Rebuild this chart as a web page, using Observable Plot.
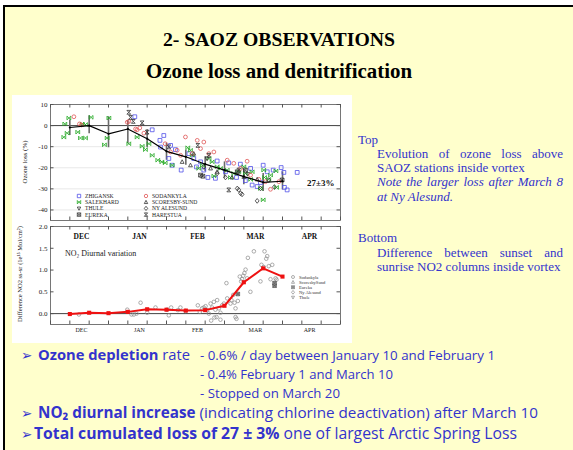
<!DOCTYPE html>
<html><head><meta charset="utf-8">
<script src="https://cdn.jsdelivr.net/npm/d3@7"></script>
<script src="https://cdn.jsdelivr.net/npm/@observablehq/plot@0.6"></script>
<style>
html,body{margin:0;padding:0;background:#fff;}
body{width:573px;height:450px;position:relative;overflow:hidden;}
#slide{position:absolute;left:3px;top:5px;width:600px;height:460px;background:#FFFFCC;border-left:2px solid #000;border-top:2px solid #000;}
#fig{position:absolute;left:12px;top:95px;width:340px;height:248px;background:#fff;}
.plot{position:absolute;}
#overlay{position:absolute;left:0;top:0;}
</style></head><body>
<div id="slide"></div>
<div id="fig"></div>
<div id="top" class="plot" style="left:12px;top:95px"></div>
<div id="bot" class="plot" style="left:12px;top:225px"></div>
<svg id="overlay" width="573" height="450"></svg>
<script>
// ---------- DATA ----------
const monthNames = ["DEC","JAN","FEB","MAR","APR"];
const monthDays = [16,46,76,106,134];          // days since 30 Nov
const dayTicks = [0,10,20,30,40,50,60,70,80,90,100,110,120,130,140,150];
const yTicksTop = [10,0,-10,-20,-30,-40];
const gridTop = [-10,-20,-30,-40];
const yTicksBot = [0,0.5,1,1.5,2];

const meanDays = [10,20,30,40,50,60,70,80,90,100,110,120];
const meanLoss = [-0.9,0.0,-3.9,-1.6,-6.2,-12.2,-14.8,-18.3,-21.1,-24.2,-26.9,-26.4];
const meanHi   = [2.7,4.7,4.2,2.3,-2.0,-8.3,-11.7,-14.8,-17.2,-20.8,-22.7,-21.9];
const meanLo   = [-4.7,-3.9,-10.5,-8.6,-10.5,-16.4,-18.8,-21.9,-25.0,-28.1,-31.3,-30.5];

const zhigansk = [[43.6,4.2],[52.6,-2.0],[58.6,-4.7],[56.6,-7.0],[56.9,-10.2],[62.1,-9.4],[64.6,-11.4],[61.2,-15.6],[62.9,-18.8],[67.6,-21.1],[71.6,-13.3],[74.1,-15.6],[75.5,-19.6],[77.6,-17.2],[79.3,-21.1],[81.4,-24.6],[85.3,-25.0],[86.2,-16.8],[90.5,-21.9],[92.2,-17.7],[96.2,-24.6],[98.2,-18.3],[100.8,-26.1],[103.5,-20.3],[104.3,-28.2],[106.9,-28.9],[108.6,-27.0],[110.0,-18.8],[112.1,-21.9],[115.2,-21.1],[119.3,-19.9],[120.7,-22.2],[121.0,-29.3],[122.4,-30.5],[127.6,-22.2]];
const salekhard = [[9.5,3.6],[7.4,0.8],[6.9,-5.5],[8.6,-3.6],[14.1,-3.1],[15.5,-5.9],[18.1,-5.9],[21.0,3.9],[16.4,0.8],[18.1,0.5],[30.2,3.6],[29.3,-5.9],[27.9,-9.1],[40.5,-8.6],[44.8,-5.5],[47.4,-9.8],[49.1,-11.4],[50.9,-8.6],[52.6,-14.1],[55.5,-16.4],[57.6,-17.2],[59.3,-17.7],[62.9,-18.8],[71.0,-10.5],[72.4,-11.7],[73.3,-14.1],[76.7,-20.3],[78.6,-18.8],[82.0,-15.6],[83.6,-17.2],[84.5,-23.9],[86.2,-19.5],[87.9,-20.3],[91.4,-21.1],[93.1,-24.6],[94.8,-22.7],[97.4,-21.9],[100.0,-19.5],[100.8,-22.7],[103.5,-25.5],[104.3,-21.9],[108.6,-29.8],[110.0,-35.2],[110.3,-21.1],[110.7,-24.6],[112.9,-25.5],[113.8,-23.5],[116.6,-21.5],[116.9,-29.3]];
const sodankyla = [[12.1,4.2],[15.0,0.8],[16.0,0.3],[39.7,1.6],[40.5,2.0],[44.0,-1.6],[44.8,-2.0],[46.2,-1.1],[48.3,-3.6],[59.3,-8.6],[62.1,-12.5],[65.5,-11.7],[67.3,-14.1],[69.8,-5.4],[73.3,-13.3],[75.9,-7.0],[77.6,-10.9],[79.3,-7.8],[81.9,-13.3],[84.5,-12.5],[91.4,-16.4],[94.8,-17.9],[98.3,-20.3],[101.7,-16.9],[103.5,-23.5],[107.8,-25.5],[111.2,-26.6],[113.8,-30.2],[118.1,-26.6]];
const harestua = [[40.5,6.3],[41.4,3.9],[42.8,2.0],[47.4,1.3],[50.0,-3.1],[61.2,-10.1],[76.2,-9.4],[81.9,-14.1],[92.2,-30.5],[97.4,-21.1]];
const nyAlesund = [[79.3,-19.6],[86.2,-22.7],[90.5,-24.6],[96.6,-29.8],[97.4,-30.5],[98.3,-32.1],[99.1,-32.6],[106.9,-35.7],[108.6,-29.8],[112.9,-25.8],[115.8,-29.1]];
const scoresby = [[68.1,-17.2],[72.4,-18.8],[74.1,-13.3],[82.8,-20.3],[86.2,-21.9],[93.9,-24.6],[100.0,-24.3],[106.9,-25.5]];
const eureka = [[77.6,-23.5],[78.8,-24.0],[96.6,-21.9],[100.8,-21.1],[119.8,-25.8]];
const thule = [[81.0,-15.6],[102.0,-23.0]];

const no2Days = [10,20,30,40,50,60,70,80,90,100,110,120];
const no2Mean = [-0.01,0.02,0.01,0.04,0.10,0.09,0.07,0.08,0.18,0.72,1.04,0.85];
const no2Obs = [[14.7,-0.02],[39.7,0.09],[41.9,-0.02],[43.1,-0.02],[44.5,0.0],[46.6,0.25],[50.0,0.02],[54.3,0.14],[60.3,0.09],[61.2,-0.04],[62.4,0.14],[65.9,0.08],[67.2,0.14],[69.8,0.06],[76.2,0.19],[77.2,0.04],[78.4,0.12],[79.3,0.14],[80.2,0.17],[81.0,0.08],[81.9,0.0],[82.8,0.23],[83.6,0.14],[84.5,0.27],[85.3,0.09],[86.2,0.31],[87.1,0.12],[87.9,0.02],[88.8,0.19],[89.7,0.23],[83.1,-0.16],[84.8,-0.09],[87.9,-0.14],[85.9,-0.08],[91.0,0.70],[91.4,0.35],[93.1,0.23],[93.6,0.31],[94.5,0.43],[95.2,0.25],[95.7,0.12],[95.7,-0.08],[96.2,-0.12],[96.9,0.29],[97.9,0.85],[98.6,0.74],[99.1,0.79],[99.7,0.87],[100.3,0.93],[100.9,1.01],[101.7,0.81],[102.1,1.28],[103.4,0.50],[105.2,1.43],[108.6,0.74],[109.1,1.12],[110.3,1.07],[110.7,1.43],[111.6,1.26],[112.1,1.32],[112.9,1.09],[113.8,0.79],[114.7,1.12],[116.4,0.81],[116.9,0.78]];
const no2Eureka = [[96.9,0.45],[115.9,0.64],[115.9,0.70]];

const topStations = ["ZHIGANSK","SALEKHARD","THULE","EUREKA","SODANKYLA","SCORESBY-SUND","NY ALESUND","HARESTUA"];
const botStations = ["Sodankyla","ScoresbySund","Eureka","Ny Alesund","Thule"];

// ---------- SYMBOLS ----------
function mk(fn){return {draw(c,size){const r=Math.sqrt(size/Math.PI); fn(c,r);}};}
const SYM = {
  square: mk((c,r)=>{c.moveTo(-r,-r);c.lineTo(r,-r);c.lineTo(r,r);c.lineTo(-r,r);c.closePath();}),
  circle: mk((c,r)=>{c.moveTo(r,0);c.arc(0,0,r,0,2*Math.PI);}),
  bowtie: mk((c,r)=>{c.moveTo(-r,-r);c.lineTo(-r,r);c.lineTo(r,-r);c.lineTo(r,r);c.closePath();}),
  hourglass: mk((c,r)=>{c.moveTo(-r,-r);c.lineTo(r,-r);c.lineTo(-r,r);c.lineTo(r,r);c.closePath();}),
  triangle: mk((c,r)=>{c.moveTo(0,-r*1.1);c.lineTo(r,r*0.8);c.lineTo(-r,r*0.8);c.closePath();}),
  itriangle: mk((c,r)=>{c.moveTo(0,r*1.1);c.lineTo(r,-r*0.8);c.lineTo(-r,-r*0.8);c.closePath();}),
  diamond: mk((c,r)=>{c.moveTo(0,-r*1.25);c.lineTo(r,0);c.lineTo(0,r*1.25);c.lineTo(-r,0);c.closePath();}),
  sqcross: mk((c,r)=>{c.moveTo(-r,-r);c.lineTo(r,-r);c.lineTo(r,r);c.lineTo(-r,r);c.closePath();c.moveTo(-r,-r);c.lineTo(r,r);c.moveTo(r,-r);c.lineTo(-r,r);})
};
const BLUEPT="#5050e8", GREEN="#22a822", REDPT="#e05555", DARK="#333";
const topStyle = [
  {data:zhigansk, sym:SYM.square, color:BLUEPT},
  {data:salekhard, sym:SYM.bowtie, color:GREEN},
  {data:thule, sym:SYM.itriangle, color:DARK},
  {data:eureka, sym:SYM.sqcross, color:DARK},
  {data:sodankyla, sym:SYM.circle, color:REDPT},
  {data:scoresby, sym:SYM.triangle, color:DARK},
  {data:nyAlesund, sym:SYM.diamond, color:DARK},
  {data:harestua, sym:SYM.hourglass, color:DARK}
];

// ---------- TOP PLOT ----------
const W=338, TH=130, TMT=9, TMB=5, ML=38, MR=10;
const FW=W-ML-MR, FHT=TH-TMT-TMB;
const meanData = meanDays.map((d,i)=>({day:d, loss:meanLoss[i], hi:meanHi[i], lo:meanLo[i]}));
const fx = d=>d[0], fy = d=>d[1];
const SERIF = "'Liberation Serif','Times New Roman',serif";
const topPlot = Plot.plot({
  width:W, height:TH, marginLeft:ML, marginRight:MR, marginTop:TMT, marginBottom:TMB,
  x:{domain:[0,150], axis:null},
  y:{domain:[-45,10], axis:null},
  style:{fontFamily:SERIF, fontSize:"7px", background:"transparent", overflow:"visible", color:"#222"},
  marks:[
    Plot.ruleY(gridTop,{stroke:"#e2e2e2", strokeWidth:0.8}),
    Plot.ruleY([0],{stroke:"#111", strokeWidth:0.8}),
    Plot.ruleX(meanData,{x:"day", y1:"lo", y2:"hi", stroke:"#6a6a6a", strokeWidth:1.6}),
    ...topStyle.map(s=>Plot.dot(s.data,{x:fx, y:fy, symbol:s.sym, r:1.9, stroke:s.color, strokeWidth:0.8, fill:"none"})),
    Plot.line(meanData,{x:"day", y:"loss", stroke:"#000", strokeWidth:1.2}),
    Plot.dot(meanData,{x:"day", y:"loss", r:1.1, fill:"#000"}),
    Plot.frame({stroke:"#555", strokeWidth:0.8}),
    Plot.tickX(dayTicks,{x:d=>d, insetBottom:FHT-3.5, stroke:"#555"}),
    Plot.tickX(dayTicks,{x:d=>d, insetTop:FHT-3.5, stroke:"#555"}),
    Plot.tickY(yTicksTop,{y:d=>d, insetRight:FW-3.5, stroke:"#555"}),
    Plot.tickY(yTicksTop,{y:d=>d, insetLeft:FW-3.5, stroke:"#555"}),
    Plot.axisY({ticks:yTicksTop, tickSize:0, tickPadding:3, tickFormat:d=>String(d), label:null, fontSize:7})
  ]
});
document.getElementById("top").appendChild(topPlot);

// ---------- BOTTOM PLOT ----------
const BH=117, BMT=1, BMB=18, FHB=BH-BMT-BMB;
const no2Data = no2Days.map((d,i)=>({day:d, v:no2Mean[i]}));
const botPlot = Plot.plot({
  width:W, height:BH, marginLeft:ML, marginRight:MR, marginTop:BMT, marginBottom:BMB,
  x:{domain:[0,150], axis:null},
  y:{domain:[-0.25,2.0], axis:null},
  style:{fontFamily:SERIF, fontSize:"7px", background:"transparent", overflow:"visible", color:"#222"},
  marks:[
    Plot.ruleY([0],{stroke:"#111", strokeWidth:0.8}),
    Plot.dot(no2Obs,{x:fx, y:fy, symbol:SYM.circle, r:1.8, stroke:"#8a8a8a", strokeWidth:0.7, fill:"none"}),
    Plot.dot(no2Eureka,{x:fx, y:fy, symbol:SYM.sqcross, r:1.8, stroke:"#555", fill:"#999", strokeWidth:0.7}),
    Plot.line(no2Data,{x:"day", y:"v", stroke:"#ee1111", strokeWidth:2}),
    Plot.dot(no2Data,{x:"day", y:"v", symbol:"square", r:2.3, fill:"#ee1111"}),
    Plot.frame({stroke:"#555", strokeWidth:0.8}),
    Plot.tickX(dayTicks,{x:d=>d, insetBottom:FHB-3.5, stroke:"#555"}),
    Plot.tickX(dayTicks,{x:d=>d, insetTop:FHB-3.5, stroke:"#555"}),
    Plot.tickY(yTicksBot,{y:d=>d, insetRight:FW-3.5, stroke:"#555"}),
    Plot.tickY(yTicksBot,{y:d=>d, insetLeft:FW-3.5, stroke:"#555"}),
    Plot.text(monthNames,{x:(d,i)=>monthDays[i], text:d=>d, frameAnchor:"top", dy:7, fontSize:7.5, fontWeight:"bold", fill:"#111"}),
    Plot.axisY({ticks:yTicksBot, tickSize:0, tickPadding:3, tickFormat:d3.format(".1f"), label:null, fontSize:7}),
    Plot.axisX({ticks:monthDays, tickSize:0, tickPadding:3, tickFormat:d=>monthNames[monthDays.indexOf(d)], label:null, fontSize:6})
  ]
});
document.getElementById("bot").appendChild(botPlot);

// ---------- OVERLAY TEXT ----------
const svg = d3.select("#overlay");
const BLUE = "#3333cc";
function symPath(sym, r){const p=d3.path(); sym.draw(p, r*r*Math.PI); return p.toString();}
function addText(x,y,parts,o={}){
  const t = svg.append("text").attr("x",x).attr("y",y)
    .style("font-family",o.family||SERIF).attr("font-size",o.size||13)
    .attr("fill",o.fill||"#000").attr("text-anchor",o.anchor||"start")
    .attr("font-weight",o.weight||"normal").attr("font-style",o.style||"normal");
  if (o.transform) t.attr("transform",o.transform);
  for (const p of parts){
    const s = t.append("tspan").text(typeof p==="string"?p:p.t);
    if (typeof p!=="string"){ if(p.w) s.attr("font-weight",p.w); if(p.dy!=null) s.attr("dy",p.dy); if(p.fs) s.attr("font-size",p.fs); }
  }
  if (o.width){
    const n = t.node().getComputedTextLength();
    const sz = (o.size||13)*Math.max(0.85,Math.min(1.15,o.width/n));
    t.attr("font-size",sz);
    t.attr("textLength",o.width).attr("lengthAdjust","spacingAndGlyphs");
  }
  return t;
}
function justify(x0,x1,y,str,o={}){
  const words = str.split(" ");
  const nodes = words.map(w=>svg.append("text").attr("y",y).style("font-family",SERIF)
     .attr("font-size",o.size||13).attr("fill",o.fill||BLUE).attr("font-style",o.style||"normal").text(w));
  const widths = nodes.map(n=>n.node().getComputedTextLength());
  const gap = (x1-x0-d3.sum(widths))/(words.length-1);
  let x=x0; nodes.forEach((n,i)=>{n.attr("x",x); x+=widths[i]+gap;});
}

// Titles
addText(279,46,["2- SAOZ OBSERVATIONS"],{size:17,anchor:"middle",width:232,weight:"bold"});
addText(279,78,["Ozone loss and denitrification"],{size:18,anchor:"middle",width:266,weight:"bold"});

// Right column
addText(358,144,["Top"],{fill:BLUE});
justify(377,563,158,"Evolution of ozone loss above");
addText(377,172,["SAOZ stations inside vortex"],{fill:BLUE});
justify(377,563,186,"Note the larger loss after March 8",{style:"italic"});
addText(377,201,["at Ny Alesund."],{fill:BLUE,style:"italic"});
addText(358,242,["Bottom"],{fill:BLUE});
justify(377,563,257,"Difference between sunset and");
addText(377,271,["sunrise NO2 columns inside vortex"],{fill:BLUE});

// Bottom bullet text
const CF = "'Open Sans',sans-serif";
[360,418,439].forEach(y=>addText(21,y,["➢"],{family:"DejaVu Sans",size:13.5,fill:BLUE}));
addText(38,360,[{t:"Ozone depletion",w:"bold"},{t:" rate"}],{family:CF,size:15.5,fill:BLUE,width:152});
addText(200,360,["- 0.6% / day between January 10 and  February 1"],{family:CF,size:15.5,fill:BLUE,width:295});
addText(200,379,["- 0.4% February 1 and March 10"],{family:CF,size:15.5,fill:BLUE,width:193});
addText(200,398,["-  Stopped on March 20"],{family:CF,size:15.5,fill:BLUE,width:140});
addText(38,418,[{t:"NO₂ diurnal increase",w:"bold"},{t:" (indicating chlorine deactivation) after March 10"}],{family:CF,size:15.5,fill:BLUE,width:500});
addText(34,439,[{t:"Total cumulated loss of 27 ± 3%",w:"bold"},{t:" one of largest Arctic Spring Loss"}],{family:CF,size:15.5,fill:BLUE,width:483});

// Plot annotations
addText(307,186,["27±3%"],{size:9,fill:"#111",weight:"bold"});
addText(27,162,["Ozone loss (%)"],{size:7,anchor:"middle",transform:"rotate(-90 27 162)",fill:"#222"});
addText(22,274,["Difference NO2 ss-sr (1e¹⁵ Mol/cm²)"],{size:6.5,anchor:"middle",transform:"rotate(-90 22 274)",fill:"#222"});
addText(65,256,["NO₂ Diurnal variation"],{size:8,fill:"#222"});

// Top legend
topStations.forEach((name,i)=>{
  const col = Math.floor(i/4), row = i%4;
  const x = col===0?79:146, y = 196 + row*6.2;
  const st = topStyle[i];
  svg.append("path").attr("d",symPath(st.sym,1.7)).attr("transform",`translate(${x},${y})`)
    .attr("fill","none").attr("stroke",st.color).attr("stroke-width",0.8);
  svg.append("text").attr("x",x+6).attr("y",y+2).style("font-family",SERIF).attr("font-size",5.6)
    .attr("fill","#222").text(name);
});
// Bottom legend
const botSyms = [SYM.circle,SYM.triangle,SYM.sqcross,SYM.diamond,SYM.itriangle];
botStations.forEach((name,i)=>{
  const x=293, y=277 + i*5.1;
  svg.append("path").attr("d",symPath(botSyms[i],1.5)).attr("transform",`translate(${x},${y})`)
    .attr("fill",i===2?"#aaa":"none").attr("stroke","#777").attr("stroke-width",0.6);
  svg.append("text").attr("x",x+6).attr("y",y+1.6).style("font-family",SERIF).attr("font-size",4.6)
    .attr("fill","#333").text(name);
});
</script>
</body></html>
